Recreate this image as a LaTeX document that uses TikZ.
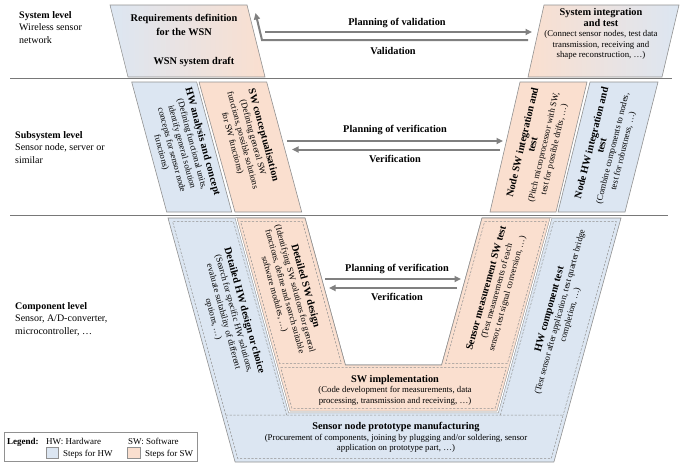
\documentclass[tikz,border=0pt]{standalone}
\usepackage{fontspec}
\setmainfont{Liberation Serif}
\usetikzlibrary{arrows.meta}
\definecolor{hwblue}{RGB}{220,230,242}
\definecolor{swpeach}{RGB}{250,223,207}
\definecolor{lgray}{RGB}{145,145,145}
\definecolor{sgray}{RGB}{120,120,120}
\definecolor{agray}{RGB}{128,128,128}
\newcommand\HdF{\fontsize{10.3}{11}\selectfont\bfseries}
\newcommand\SmF{\fontsize{8.8}{10.6}\selectfont}
\newcommand\LabF{\fontsize{10}{12.5}\selectfont}
\newcommand\LegF{\fontsize{9}{11}\selectfont}
\begin{document}
\begin{tikzpicture}[x=1pt,y=-1pt,
  box/.style={draw=lgray, line width=0.6pt},
  hwbox/.style={box, fill=hwblue},
  swbox/.style={box, fill=swpeach},
  dsh/.style={draw=lgray, line width=0.5pt, dash pattern=on 2.2pt off 1.6pt},
  iface/.style={draw=lgray, line width=0.5pt, double=white, double distance=1.2pt},
  sep/.style={draw=sgray, line width=0.9pt},
  conn/.style={draw=agray, line width=2pt, -{Triangle[length=6.5pt,width=6pt]}},
  alabel/.style={font=\HdF, inner sep=0pt},
  rtxt/.style={align=center, font=\SmF, inner sep=0pt},
  lvl/.style={anchor=north west, align=left, font=\LabF, inner sep=0pt},
]
\useasboundingbox (0,0) rectangle (684,463);

% separators
\draw[sep] (10,78) -- (672,78);
\draw[sep] (10,215.5) -- (668,215.5);

% level labels
\node[lvl] (l1) at (19,11) {\textbf{System level}\\Wireless sensor\\network};
\node[lvl] (l2) at (15,131) {\textbf{Subsystem level}\\Sensor node, server or\\similar};
\node[lvl] (l3) at (15,302) {\textbf{Component level}\\Sensor, A/D-converter,\\microcontroller, …};

% system level boxes
\draw[box, left color=hwblue, right color=swpeach] (110,5) -- (247,5) -- (265,77) -- (128,77) -- cycle;
\node[alabel, align=center] (reqt) at (184,25) {Requirements definition\\[2.5pt]for the WSN};
\node[alabel] (wsn) at (194,62) {WSN system draft};
\draw[box, left color=swpeach, right color=hwblue] (544,5) -- (679,5) -- (662,77) -- (528,77) -- cycle;
\node[rtxt] (sit) at (601,34) {{\HdF System integration}\\{\HdF and test}\\(Connect sensor nodes, test data\\transmission, receiving and\\shape reconstruction, …)};

% validation arrows
\coordinate (pv1) at (265,32); \coordinate (pv2) at (532,32);
\draw[conn] (pv1) -- (pv2);
\coordinate (va1) at (528,40); \coordinate (va2) at (262,40); \coordinate (va3) at (255.5,13);
\draw[conn] (va1) -- (va2) -- (va3);
\node[alabel] (lpv) at (397,23) {Planning of validation};
\node[alabel] (lva) at (393,51) {Validation};

% subsystem level boxes
\draw[hwbox] (131.7,82) -- (196.7,82) -- (231.7,212) -- (166.7,212) -- cycle;
\node[rtxt, rotate=-74.9] (hwa) at (182,147) {{\HdF HW analysis and concept}\\(Defining functional units,\\identify general solution\\concepts for sensor node\\functions)};
\draw[swbox] (199,82) -- (266.7,82) -- (301.7,212) -- (235,212) -- cycle;
\node[rtxt, rotate=-74.9] (swc) at (248,139) {{\HdF SW conceptualisation}\\(Defining general SW\\functions, possible solutions\\for SW functions)};
\draw[swbox] (520,82) -- (587,82) -- (556,212) -- (490,212) -- cycle;
\node[rtxt, rotate=76.8] (nsw) at (538.5,146) {{\HdF Node SW integration and}\\{\HdF test}\\(Pitch microprocessor with SW,\\test for possible drifts, …)};
\draw[hwbox] (590,82) -- (658,82) -- (625,212) -- (558,212) -- cycle;
\node[rtxt, rotate=76] (nhw) at (607.5,147) {{\HdF Node HW integration and}\\{\HdF test}\\(Combine components to nodes,\\test for robustness, …)};

% verification arrows (subsystem)
\coordinate (ps1) at (287,141); \coordinate (ps2) at (503,141);
\draw[conn] (ps1) -- (ps2);
\coordinate (vs1) at (500,149.5); \coordinate (vs2) at (292,149.5);
\draw[conn] (vs1) -- (vs2);
\node[alabel] (lps) at (395,130.5) {Planning of verification};
\node[alabel] (lvs) at (395,159) {Verification};

% component level
\draw[hwbox] (168,218) -- (305,218) -- (345.4,365) -- (441.6,365) -- (482,218) -- (621,218) -- (553.9,462) -- (235.1,462) -- cycle;
\draw[swbox] (236,218) -- (305,218) -- (345.4,365) -- (441.6,365) -- (482,218) -- (551,218) -- (497.65,412) -- (289.35,412) -- cycle;
\draw[iface] (236,218) -- (289.35,412) -- (497.65,412) -- (551,218);
% dashed insets
\draw[dsh] (240.56,221.5) -- (302.36,221.5) -- (341.4,363.5) -- (279.6,363.5) -- cycle;
\draw[dsh] (484.64,221.5) -- (546.44,221.5) -- (507.4,363.5) -- (445.6,363.5) -- cycle;
\draw[dsh] (280.7,367.5) -- (506.3,367.5) -- (495.0,408.5) -- (292.0,408.5) -- cycle;
\draw[dsh] (225.8,415) -- (172.56,221.5) -- (233.36,221.5) -- (286.6,415);
\draw[dsh] (500.4,415) -- (553.64,221.5) -- (616.44,221.5) -- (563.2,415);
\draw[dsh] (225.8,415) -- (563.2,415) -- (551.3,458.5) -- (237.7,458.5) -- cycle;

\node[rtxt, rotate=-74.6] (dhw) at (229,315) {{\HdF Detailed HW design or choice}\\(Search for specific HW solutions,\\evaluate suitability of different\\options, …)};
\node[rtxt, rotate=-74.6] (dsw) at (290,290) {{\HdF Detailed SW design}\\(Identifying SW solutions for general\\functions, define and search suitable\\software modules, …)};
\node[rtxt, rotate=74.6] (smt) at (497,291) {{\HdF Sensor measurement SW test}\\(Test measurements of each\\sensor, test signal conversion, …)};
\node[rtxt, rotate=74.6] (hct) at (560,312) {{\HdF HW component test}\\(Test sensor after application, test quarter bridge\\completion, …)};
\node[rtxt] (swi) at (395,390) {{\HdF SW implementation}\\(Code development for measurements, data\\processing, transmission and receiving, …)};
\node[rtxt] (man) at (396,437.5) {{\HdF Sensor node prototype manufacturing}\\(Procurement of components, joining by plugging and/or soldering, sensor\\application on prototype part, …)};

% verification arrows (component)
\coordinate (pc1) at (325,279); \coordinate (pc2) at (461,279);
\draw[conn] (pc1) -- (pc2);
\coordinate (vc1) at (457,288); \coordinate (vc2) at (329,288);
\draw[conn] (vc1) -- (vc2);
\node[alabel] (lpc) at (397,269) {Planning of verification};
\node[alabel] (lvc) at (397,297) {Verification};

% legend
\draw[box] (4,432.5) rectangle (197,461.5);
\node[anchor=base west, font=\LegF\bfseries, inner sep=0pt] (lg) at (7,444.5) {Legend:};
\node[anchor=base west, font=\LegF, inner sep=0pt] (lghw) at (46,444.5) {HW: Hardware};
\node[anchor=base west, font=\LegF, inner sep=0pt] (lgsw) at (128,444.5) {SW: Software};
\draw[hwbox] (46,447) rectangle (58,458);
\node[anchor=base west, font=\LegF, inner sep=0pt] (lgs1) at (63,456) {Steps for HW};
\draw[swbox] (127,447) rectangle (140,458);
\node[anchor=base west, font=\LegF, inner sep=0pt] (lgs2) at (145,456) {Steps for SW};
\end{tikzpicture}
\end{document}
